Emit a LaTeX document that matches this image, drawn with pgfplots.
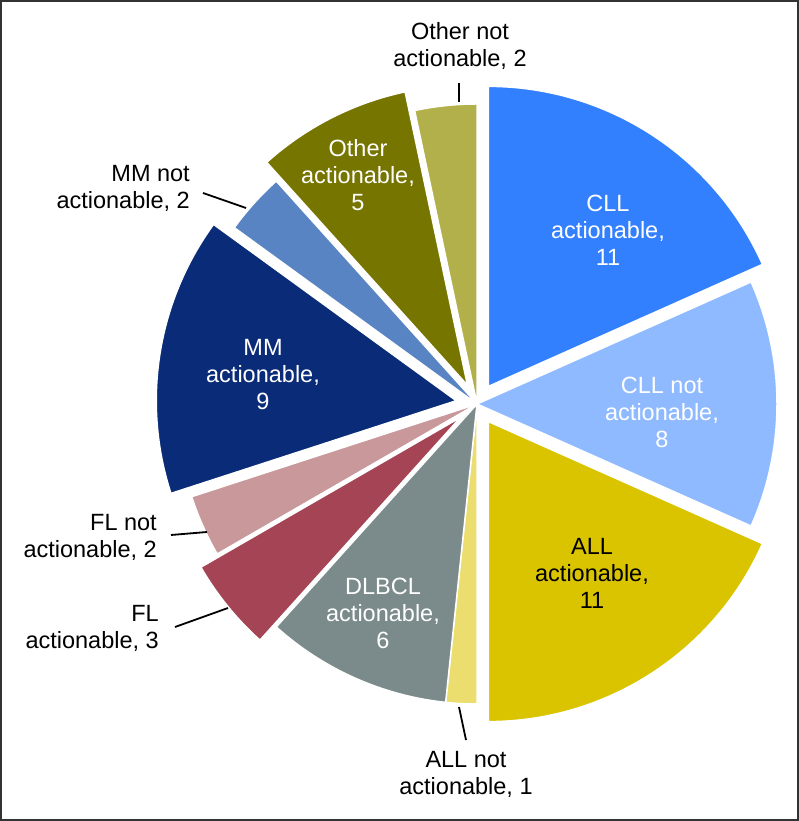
\documentclass[border=0pt]{standalone}
\usepackage{pgfplots}
\pgfplotsset{compat=1.18}
\usepackage{fontspec}
\setmainfont{Liberation Sans}

\definecolor{cllA}{RGB}{51,128,255}
\definecolor{cllN}{RGB}{143,186,255}
\definecolor{allA}{RGB}{218,196,0}
\definecolor{allN}{RGB}{236,222,110}
\definecolor{dlbcl}{RGB}{123,139,139}
\definecolor{flA}{RGB}{164,68,84}
\definecolor{flN}{RGB}{200,152,155}
\definecolor{mmA}{RGB}{10,43,120}
\definecolor{mmN}{RGB}{88,132,195}
\definecolor{othA}{RGB}{118,117,0}
\definecolor{othN}{RGB}{178,176,74}

% pie geometry (axis units = pt)
\def\cx{477}\def\cy{417}\def\rad{300}
\def\total{60}
\xdef\cum{90}
% #1 value, #2 colour, #3 explode distance
\newcommand\slice[3]{%
  \pgfmathsetmacro\sa{\cum}%
  \pgfmathsetmacro\ea{\cum-360*#1/\total}%
  \pgfmathsetmacro\md{(\sa+\ea)/2}%
  \xdef\cum{\ea}%
  \edef\tmp{\noexpand\fill[#2,draw=white,line width=1.5pt,line join=round]
    ([shift={(\md:#3pt)}]axis cs:\cx,\cy) -- ++(\sa:\rad pt)
    arc[start angle=\sa,end angle=\ea,radius=\rad pt] -- cycle;}%
  \tmp}

\begin{document}
\begin{tikzpicture}
\begin{axis}[
  width=799pt, height=821pt, scale only axis,
  xmin=0, xmax=799, ymin=0, ymax=821,
  axis lines=none, clip=false,
]
\draw[black!80,line width=2pt] (axis cs:1,1) rectangle (axis cs:798,820);

\slice{11}{cllA}{21}
\slice{8}{cllN}{0}
\slice{11}{allA}{21}
\slice{1}{allN}{0}
\slice{6}{dlbcl}{0}
\slice{3}{flA}{21}
\slice{2}{flN}{0}
\slice{9}{mmA}{21}
\slice{2}{mmN}{0}
\slice{5}{othA}{21}
\slice{2}{othN}{0}

\tikzset{lbl/.style={font=\fontsize{23.5}{27}\selectfont,align=center,inner sep=0pt}}
\node[lbl,white] at (axis cs:608,591) {CLL\\actionable,\\11};
\node[lbl,white] at (axis cs:662,409) {CLL not\\actionable,\\8};
\node[lbl,black] at (axis cs:592,248) {ALL\\actionable,\\11};
\node[lbl,white] at (axis cs:383,208) {DLBCL\\actionable,\\6};
\node[lbl,white] at (axis cs:263,446) {MM\\actionable,\\9};
\node[lbl,white] at (axis cs:358,646) {Other\\actionable,\\5};

\node[lbl] at (axis cs:460,775) {Other not\\actionable, 2};
\node[lbl] at (axis cs:466,47) {ALL not\\actionable, 1};
\node[lbl,align=right,anchor=east] at (axis cs:190,633) {MM not\\actionable, 2};
\node[lbl,align=right,anchor=east] at (axis cs:157,284) {FL not\\actionable, 2};
\node[lbl,align=right,anchor=east] at (axis cs:159,193) {FL\\actionable, 3};

\draw[line width=1.8pt] (axis cs:459,738) -- (axis cs:459,719);
\draw[line width=1.8pt] (axis cs:203,628) -- (axis cs:246,613);
\draw[line width=1.8pt] (axis cs:171,286) -- (axis cs:207,289);
\draw[line width=1.8pt] (axis cs:175,194) -- (axis cs:228,213);
\draw[line width=1.8pt] (axis cs:459,114) -- (axis cs:466,81);
\end{axis}
\end{tikzpicture}
\end{document}
